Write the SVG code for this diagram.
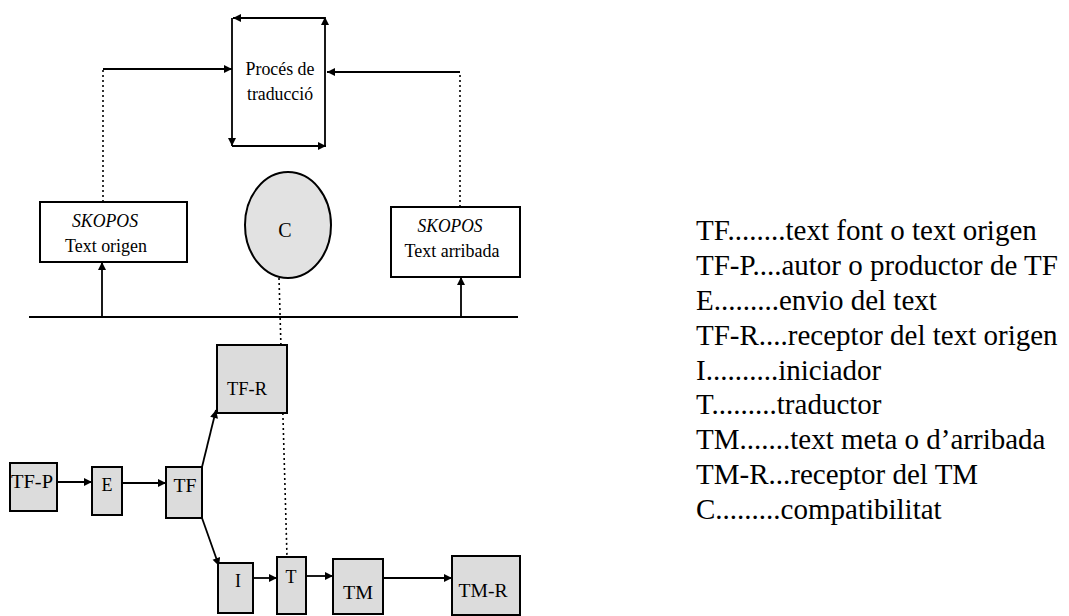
<svg xmlns="http://www.w3.org/2000/svg" width="1069" height="616" viewBox="0 0 1069 616">
  <style>
    .t { font-family: 'Liberation Serif', 'Times New Roman', 'DejaVu Serif', serif; fill: #000; }
    .box { fill: #fff; stroke: #000; stroke-width: 2; }
    .grey { fill: #dcdcdc; stroke: #000; stroke-width: 2; }
    .ln { fill: none; stroke: #000; stroke-width: 1.8; }
    .dot { fill: none; stroke: #000; stroke-width: 1.6; stroke-dasharray: 2 3; }
    .leg { font-family: 'Liberation Serif', 'Times New Roman', 'DejaVu Serif', serif; font-size: 29px; fill: #000; }
  </style>
  <defs>
    <marker id="ah" viewBox="0 0 10 10" refX="10" refY="5" markerWidth="9" markerHeight="8" markerUnits="userSpaceOnUse" orient="auto">
      <path d="M0,0 L10,5 L0,10 z" fill="#000"/>
    </marker>
  </defs>

  <g id="proces">
    <rect x="232" y="18" width="93" height="128" fill="#fff"/>
    <text class="t" x="280" y="75" font-size="19" text-anchor="middle" textLength="69" lengthAdjust="spacingAndGlyphs">Procés de</text>
    <text class="t" x="280" y="100" font-size="19" text-anchor="middle" textLength="66" lengthAdjust="spacingAndGlyphs">traducció</text>
  </g>

  <g id="skopos-origen">
    <rect class="box" x="40" y="202" width="147" height="60"/>
    <text class="t" x="105" y="227" font-size="18" font-style="italic" text-anchor="middle" textLength="66" lengthAdjust="spacingAndGlyphs">SKOPOS</text>
    <text class="t" x="106" y="252" font-size="18" text-anchor="middle" textLength="82" lengthAdjust="spacingAndGlyphs">Text origen</text>
  </g>

  <g id="skopos-arribada">
    <rect class="box" x="391" y="207" width="129" height="70"/>
    <text class="t" x="450" y="232" font-size="18" font-style="italic" text-anchor="middle" textLength="65" lengthAdjust="spacingAndGlyphs">SKOPOS</text>
    <text class="t" x="452" y="257" font-size="18" text-anchor="middle" textLength="95" lengthAdjust="spacingAndGlyphs">Text arribada</text>
  </g>

  <g id="connectors">
    <line class="ln" x1="325" y1="18" x2="233" y2="18" marker-end="url(#ah)"/>
    <line class="ln" x1="232" y1="18" x2="232" y2="146" marker-end="url(#ah)"/>
    <line class="ln" x1="232" y1="146" x2="326" y2="146" marker-end="url(#ah)"/>
    <line class="ln" x1="325" y1="146" x2="325" y2="17" marker-end="url(#ah)"/>
    <line class="dot" x1="103" y1="202" x2="103" y2="69"/>
    <line class="ln" x1="103" y1="69" x2="232" y2="69" marker-end="url(#ah)"/>
    <line class="dot" x1="460" y1="207" x2="460" y2="72"/>
    <line class="ln" x1="460" y1="72" x2="327" y2="72" marker-end="url(#ah)"/>
    <line class="ln" x1="29" y1="317" x2="518" y2="317" stroke-width="2.2"/>
    <line class="ln" x1="102" y1="317" x2="102" y2="262" marker-end="url(#ah)"/>
    <line class="ln" x1="461" y1="317" x2="461" y2="277" marker-end="url(#ah)"/>
    <line class="dot" x1="279" y1="278" x2="287" y2="557"/>
    <line class="ln" x1="57" y1="482" x2="92" y2="482" marker-end="url(#ah)"/>
    <line class="ln" x1="122" y1="483" x2="166" y2="483" marker-end="url(#ah)"/>
    <line class="ln" x1="202" y1="467" x2="216" y2="410" marker-end="url(#ah)"/>
    <line class="ln" x1="202" y1="518" x2="219" y2="566" marker-end="url(#ah)"/>
    <line class="ln" x1="253" y1="578" x2="277" y2="578" marker-end="url(#ah)"/>
    <line class="ln" x1="306" y1="576" x2="333" y2="576" marker-end="url(#ah)"/>
    <line class="ln" x1="383" y1="578" x2="452" y2="578" marker-end="url(#ah)"/>
  </g>

  <g id="C">
    <ellipse cx="288" cy="225" rx="43" ry="53" fill="#e2e2e2" stroke="#000" stroke-width="2"/>
    <text class="t" x="285" y="237" font-size="20" text-anchor="middle">C</text>
  </g>

  <g id="TF-R">
    <rect class="grey" x="217" y="345" width="70" height="68"/>
    <text class="t" x="247" y="395" font-size="18" text-anchor="middle" textLength="40" lengthAdjust="spacingAndGlyphs">TF-R</text>
  </g>
  <g id="TF-P">
    <rect class="grey" x="10" y="463" width="47" height="48"/>
    <text class="t" x="32" y="488" font-size="18" text-anchor="middle" textLength="42" lengthAdjust="spacingAndGlyphs">TF-P</text>
  </g>
  <g id="E">
    <rect class="grey" x="92" y="467" width="30" height="48"/>
    <text class="t" x="107" y="491" font-size="18" text-anchor="middle">E</text>
  </g>
  <g id="TF">
    <rect class="grey" x="166" y="467" width="36" height="51"/>
    <text class="t" x="185" y="492" font-size="18" text-anchor="middle" textLength="23" lengthAdjust="spacingAndGlyphs">TF</text>
  </g>
  <g id="I">
    <rect class="grey" x="218" y="563" width="35" height="50"/>
    <text class="t" x="238" y="587" font-size="18" text-anchor="middle">I</text>
  </g>
  <g id="T">
    <rect class="grey" x="277" y="557" width="29" height="57"/>
    <text class="t" x="291" y="583" font-size="18" text-anchor="middle">T</text>
  </g>
  <g id="TM">
    <rect class="grey" x="333" y="559" width="50" height="55"/>
    <text class="t" x="358" y="599" font-size="18" text-anchor="middle" textLength="30" lengthAdjust="spacingAndGlyphs">TM</text>
  </g>
  <g id="TM-R">
    <rect class="grey" x="452" y="556" width="68" height="59"/>
    <text class="t" x="483" y="597" font-size="18" text-anchor="middle" textLength="49" lengthAdjust="spacingAndGlyphs">TM-R</text>
  </g>

  <g id="legend">
    <text class="leg" x="696" y="240">TF........text font o text origen</text>
    <text class="leg" x="696" y="275">TF-P....autor o productor de TF</text>
    <text class="leg" x="696" y="310">E.........envio del text</text>
    <text class="leg" x="696" y="345">TF-R....receptor del text origen</text>
    <text class="leg" x="696" y="380">I..........iniciador</text>
    <text class="leg" x="696" y="414">T.........traductor</text>
    <text class="leg" x="696" y="449">TM.......text meta o d’arribada</text>
    <text class="leg" x="696" y="484">TM-R...receptor del TM</text>
    <text class="leg" x="696" y="519">C.........compatibilitat</text>
  </g>
</svg>
